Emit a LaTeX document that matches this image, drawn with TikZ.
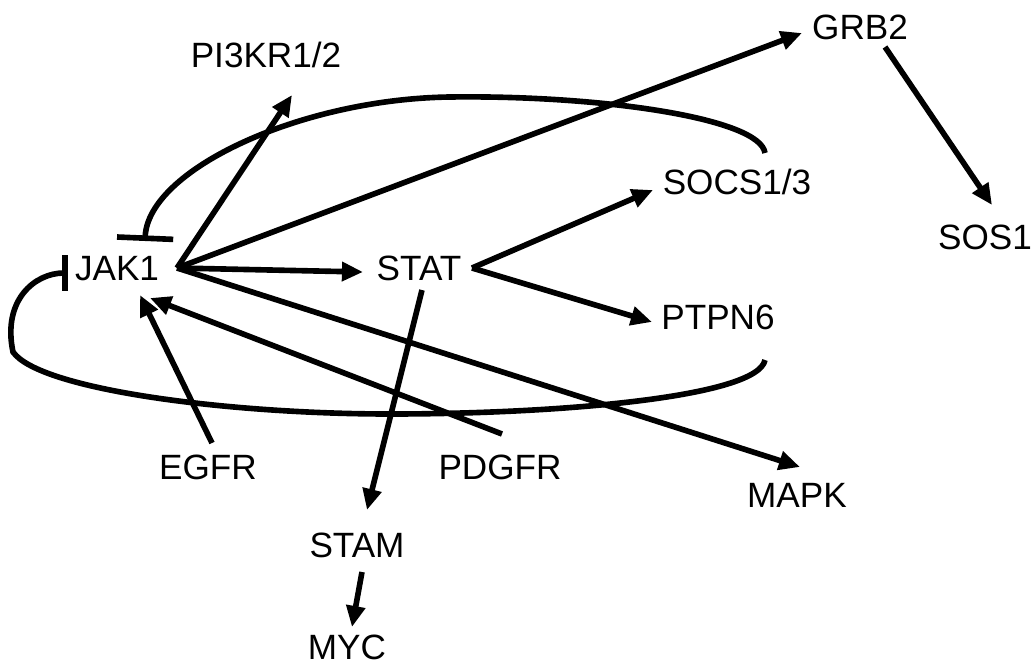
\documentclass[tikz,border=0pt]{standalone}
\usepackage{fontspec}
\setmainfont{Liberation Sans}
\usetikzlibrary{arrows.meta,calc}
\begin{document}
\begin{tikzpicture}[x=0.02cm, y=-0.02cm, line width=3.2pt]
	\tikzstyle{gene} = [inner sep=0pt, text height=14.3pt, text depth=0pt, font=\fontsize{20}{24}\selectfont]
	\tikzstyle{act}  = [-{Triangle[length=12pt, width=10.5pt]}]
	\tikzstyle{inhA} = [-{Bar[width=32pt]}]
	\tikzstyle{inhB} = [-{Bar[width=20pt]}]

	\useasboundingbox (0,0) rectangle (1035,666);

	\foreach \name/\text/\x/\y in {jak/JAK1/117/268, stat/STAT/419/268, pik/{PI3KR1/2}/266/55, grb/GRB2/860/27, socs/{SOCS1/3}/737/182, sos/SOS1/985/237, ptpn/PTPN6/718/317, egfr/EGFR/208/467, pdgfr/PDGFR/500/467, mapk/MAPK/797/495, stam/STAM/357/545, myc/MYC/347/647}
		\node[gene] (\name) at (\x, \y) {\text};

	% activations
	\foreach \from/\fx/\fy/\to/\tx/\ty in {jak/60/0/pik/26/40, jak/60/0/grb/-58/6, jak/60/0/stat/-56/4, jak/60/0/mapk/3/-28, stat/53/0/socs/-84/8, stat/53/0/ptpn/-66/5, stat/3/22/stam/10/-35, stam/5/27/myc/5/-20, grb/25/20/sos/7/-32, egfr/4/-24/jak/23/27, pdgfr/2/-33/jak/33/30}
		\draw[act] ($(\from)+(\fx,\fy)$) -- ($(\to)+(\tx,\ty)$);

	% inhibitions
	\draw[inhA] ($(socs)+(28,-29)$) .. controls (760,118) and (600,95) .. (450,97) .. controls (300,99) and (148,170) .. ($(jak)+(28,-27)$);
	\draw[inhB] ($(ptpn)+(47,43)$) .. controls (758,397) and (560,414) .. (390,414) .. controls (230,414) and (40,390) .. (13,352) .. controls (2,300) and (35,273) .. ($(jak)+(-49,5)$);
\end{tikzpicture}
\end{document}
